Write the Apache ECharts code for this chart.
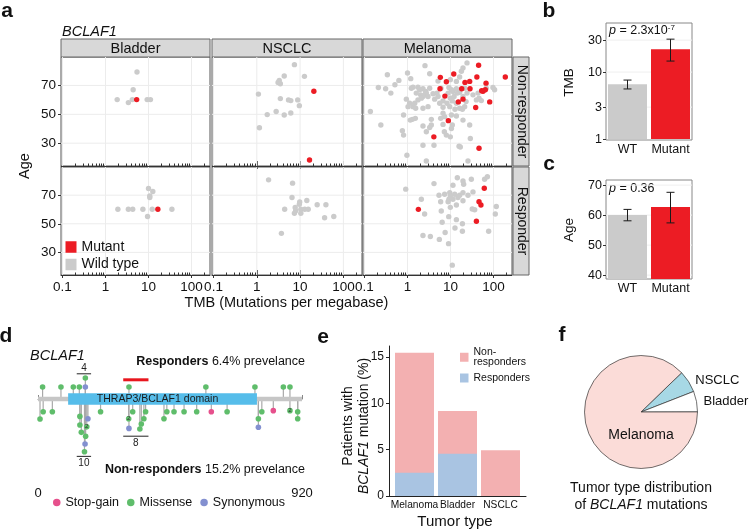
<!DOCTYPE html>
<html><head><meta charset="utf-8">
<script src="https://cdn.jsdelivr.net/npm/echarts@6/dist/echarts.min.js"></script>
<style>html,body{margin:0;padding:0;background:#fff}#c{width:749px;height:531px}</style>
</head><body><div id="c"></div>
<script>
const FONT = 'Liberation Sans, Arial, Helvetica, sans-serif';
const TXT = '#111';

// ---------- Panel a: [TMB, Age] ----------
const facetNames = ['Bladder', 'NSCLC', 'Melanoma'];
const rowNames = ['Non-responder', 'Responder'];
const tmbMajor = [0.1, 1, 10, 100];
const tmbMinor = [0.2,0.3,0.4,0.5,0.6,0.7,0.8,0.9,2,3,4,5,6,7,8,9,20,30,40,50,60,70,80,90,200];
const ageTicks = [30, 50, 70];

const bladderNR_wt = [[5.4,79.3],[4.4,67],[1.87,60.2],[3.4,58.1],[4.2,60.2],[9.3,60.2],[11.1,60.2]];
const bladderNR_mut = [[5.3,60.2]];
const bladderR_wt = [[1.94,60.2],[3.4,60.2],[4.3,60.2],[7.4,60.2],[9.5,55.1],[10,74.7],[12.6,72.6],[10.7,69.5],[10.7,68.4],[12.2,60.2],[35,60.2]];
const bladderR_mut = [[16.5,60.2]];
const nsclcNR_wt = [[7.4,84.4],[4.3,76.5],[3.3,73.5],[3.1,72.1],[3.5,71.2],[12.6,76.3],[1.09,64],[3.5,60.9],[5.4,60],[6.1,59.5],[8.8,60],[9.6,56],[2.8,51.9],[1.74,49.8],[4.3,49.5],[6.1,50.9],[1.15,40.7]];
const nsclcNR_mut = [[20.8,66],[16.5,18.4]];
const nsclcR_wt = [[1.87,80.7],[6.7,78.4],[6.5,68.4],[9.8,65.3],[9.6,63.7],[14.3,66.3],[7.7,61.4],[4.4,60.2],[7.9,59.1],[10.4,60.2],[12.8,60.2],[15.4,60.2],[24.8,63.3],[39.5,63.3],[7.4,57.4],[10.4,57.4],[36.8,54.2],[60,55.1],[3.7,43.3]];
const nsclcR_mut = [];
const melanomaNR_wt = [[2.55,83.7],[24.2,85.6],[19.5,82.1],[17.9,79.8],[0.34,77.4],[1.0,78.6],[1.19,74.7],[3.28,78.1],[16.3,75.8],[13.7,72.8],[9.9,74],[5.12,73],[0.63,73.5],[0.51,70.5],[0.21,68.6],[0.31,67.7],[0.41,64.7],[1.23,68.1],[1.34,68.8],[1.75,68.8],[2.29,67.7],[2.64,65.8],[1.6,64.7],[2.02,63.5],[2.29,62.3],[2.74,64.7],[3.28,68.1],[3.92,64.2],[4.85,64.7],[6.0,68.1],[9.2,68.6],[10.5,67],[11.4,65.8],[13.7,67.7],[14.4,64.7],[12.1,62.3],[9.9,61.2],[11.0,59.3],[16.3,65.3],[21.3,68.1],[24.2,64.7],[33.3,63.5],[43.6,64.7],[46,61.2],[52,59.5],[68,68.1],[97,68.6],[106,67],[0.94,60.5],[1.12,57.7],[1.03,55.3],[1.34,55.3],[1.55,54.2],[1.75,60],[2.1,61.2],[2.29,54.2],[3.0,55.3],[4.28,60.5],[5.12,62.3],[6.7,59.3],[6.7,54.9],[8.3,57.7],[9.6,55.3],[6.7,50.7],[12.7,53.5],[16.3,54.2],[18.9,53.5],[21.3,55.3],[13.7,48.8],[10.5,49.5],[7.3,48.4],[5.9,47.2],[3.58,46.5],[0.81,49.5],[1.3,46.5],[1.16,46],[1.52,47.2],[0.24,42.6],[0.137,51.9],[0.76,38.6],[0.81,35.6],[2.29,41.9],[2.74,37.9],[3.28,40.9],[3.58,42.6],[6.7,43],[7.2,37.9],[8.0,35.6],[9.9,34.4],[10.5,40.2],[11.0,42.6],[19.5,46],[27.9,42.6],[28.9,33.3],[16.9,27.4],[15.8,27.9],[4.13,28.6],[2.29,28.6],[0.97,21.6],[2.74,17.7],[25.5,17.7],[1.92,67],[2.5,63.5],[3.0,62.3],[1.47,57.7],[5.6,57.7],[8.8,64.7],[19.5,62.3],[23,58.8],[40,60],[13.7,57.7]];
const melanomaNR_mut = [[45,84],[11.9,77.9],[41,75.8],[188,75.8],[5.8,75.6],[8,72.6],[21.7,72.1],[27.9,72.8],[67,71.6],[5.7,67.7],[18.2,67.7],[28.4,67.7],[53,66.3],[64.6,67],[57,66],[7.4,62.6],[19.5,60.5],[15.2,58.6],[81.5,58.6],[38.5,54.7],[8.9,45.6],[4.1,34.4],[46,26.5]];
const melanomaR_wt = [[0.91,74.2],[4.13,78.1],[14.4,82.2],[19.5,79.9],[20.2,77.6],[30.5,81.1],[62,81.1],[72,82.9],[11.4,76.9],[5.4,70],[7.3,70.7],[9.6,71.8],[9.9,69.5],[12.5,70.7],[16.3,70],[19.5,71.8],[25.5,70],[33.3,72.3],[9.2,67.2],[11.4,67.2],[14.9,68.4],[19.5,66.1],[5.9,65.4],[8.8,65.4],[9.9,61.5],[2.1,67.2],[2.5,56.8],[6.1,58.9],[13.7,63.1],[32,60.3],[36.5,59.8],[116,62.1],[110,56.8],[9.1,55],[13.7,52.9],[6.4,51.1],[18.9,50],[12.7,47.1],[18.9,44.8],[7.5,43.9],[77,44.8],[2.29,41.8],[3.4,41.1],[5.5,39.1],[9.0,36.1],[11.0,21.1]];
const melanomaR_mut = [[61,74.8],[46,65.4],[51,63.1],[40,51.8],[1.79,60.1]];

// ---------- Panel b / c ----------
const groupCats = ['WT', 'Mutant'];
const tmbMean = [6.6, 22];
const tmbLow = [5.6, 14.6];
const tmbHigh = [7.6, 31];
const tmbBTicks = [1, 3, 10, 30];
const ageMean = [60, 62.7];
const ageLow = [58.1, 57.4];
const ageHigh = [61.9, 67.6];
const ageCTicks = [40, 50, 60, 70];

// ---------- Panel d: [position, height, type, count] ----------
const proteinLength = 920;
const domainStart = 105, domainEnd = 763;
const responderMuts = [[16,1,'Missense',1],[80,1,'Missense',1],[123,1,'Missense',1],[144,1,'Missense',1],[165,1.75,'Missense',1],[165,1,'Synonymous',1],[317,1,'Missense',1],[585,1,'Missense',1],[756,1,'Missense',1],[855,1,'Missense',1],[878,1,'Missense',1]];
const nonResponderMuts = [[7,-1.67,'Missense',1],[18,-1.06,'Missense',1],[50,-1.06,'Missense',1],[146,-1.45,'Missense',1],[146,-2.17,'Missense',1],[151,-2.78,'Missense',1],[166,-3.1,'Missense',1],[164,-3.75,'Synonymous',1],[162,-4.4,'Missense',1],[174,-1.65,'Synonymous',1],[170,-2.32,'Missense',2],[218,-1.06,'Missense',1],[316,-1.65,'Missense',2],[317,-2.45,'Synonymous',1],[330,-1.06,'Missense',1],[360,-2.08,'Missense',1],[355,-2.5,'Missense',1],[369,-1.65,'Missense',1],[375,-1.06,'Missense',1],[439,-1.65,'Missense',1],[449,-1.06,'Missense',1],[474,-1.06,'Missense',1],[509,-1.06,'Missense',1],[553,-1.06,'Missense',1],[604,-1.06,'Stop-gain',1],[659,-1.06,'Missense',1],[768,-1.65,'Missense',1],[768,-2.35,'Synonymous',1],[780,-1.06,'Missense',1],[820,-0.97,'Stop-gain',1],[878,-0.97,'Missense',2],[905,-1.06,'Missense',1],[905,-1.65,'Missense',1]];
const mutTypes = ['Stop-gain', 'Missense', 'Synonymous'];
const mutColors = {'Stop-gain':'#e6508c', 'Missense':'#5fbd6b', 'Synonymous':'#8390d0'};
// [start, end, height, label]
const brackets = [[135,185,2.1,'4'],[297,385,-3.1,'8'],[135,185,-4.78,'10']];
const hotspot = [[297,385,1.6]];

// ---------- Panel e ----------
const tumorTypes = ['Melanoma', 'Bladder', 'NSCLC'];
const respPct = [2.5, 4.56, 0];
const nonRespPct = [12.96, 4.61, 4.93];

// ---------- Panel f ----------
const pieNames = ['NSCLC', 'Bladder', 'Melanoma'];
const pieValues = [6.3, 5.9, 87.8];
const pieColors = ['#a7d8e5', '#ffffff', '#fbdcd8'];

// ================= build option =================
const tmbMin = 0.0923, tmbMax = 269, ageMin = 14.2, ageMax = 89.7;
const colsX = [[61,149],[212,150],[363,149]];
const rowsY = [[57,109],[167,108]];
const facetData = [
  [bladderNR_wt, bladderNR_mut], [nsclcNR_wt, nsclcNR_mut], [melanomaNR_wt, melanomaNR_mut],
  [bladderR_wt, bladderR_mut], [nsclcR_wt, nsclcR_mut], [melanomaR_wt, melanomaR_mut]
];
const grids = [], xAxes = [], yAxes = [], series = [];
const fmtNum = v => (v < 1 ? (+v).toFixed(1) : String(Math.round(v)));

function gridLines(xi, yi, xs, ys, xRef, yRef, color) {
  const data = xs.map(v => [v, 0]).concat(ys.map(v => [v, 1]));
  return {type:'custom', xAxisIndex:xi, yAxisIndex:yi, silent:true, z:1, data,
    renderItem(params, api) {
      const cs = params.coordSys;
      const v = api.value(0), k = api.value(1);
      if (k === 0) {
        const x = api.coord([v, yRef])[0];
        return {type:'line', shape:{x1:x, y1:cs.y, x2:x, y2:cs.y+cs.height}, style:{stroke:color, lineWidth:1}};
      }
      const y = api.coord([xRef, v])[1];
      return {type:'line', shape:{x1:cs.x, y1:y, x2:cs.x+cs.width, y2:y}, style:{stroke:color, lineWidth:1}};
    }};
}

for (let r = 0; r < 2; r++) for (let c = 0; c < 3; c++) {
  const g = r * 3 + c;
  grids.push({left: colsX[c][0], width: colsX[c][1], top: rowsY[r][0], height: rowsY[r][1],
    show: true, borderColor: '#555', borderWidth: 1, backgroundColor: '#fff'});
  const base = {type:'log', logBase:10, gridIndex:g, min:tmbMin, max:tmbMax, position:'bottom',
    splitLine:{show:false}, axisLine:{show:false}, axisLabel:{show:false}, axisTick:{show:false}};
  xAxes.push(Object.assign({}, base, {
    axisLine:{show:true, lineStyle:{color:'#333', width:1}},
    axisTick:{show:true, inside:false, length:3, customValues: tmbMajor, lineStyle:{color:'#333'}},
    axisLabel:{show: r === 1, customValues: tmbMajor, formatter: fmtNum, fontSize:13.5, margin:5, fontFamily: FONT, color: TXT}
  }));
  xAxes.push(Object.assign({}, base, {axisTick:{show:true, inside:true, length:2.5, customValues: tmbMinor, lineStyle:{color:'#333'}}}));
  xAxes.push(Object.assign({}, base, {axisTick:{show:true, inside:true, length:5, customValues: tmbMajor, lineStyle:{color:'#333'}}}));
  yAxes.push({type:'value', gridIndex:g, min:ageMin, max:ageMax, splitLine:{show:false},
    axisLine:{show:false},
    axisTick:{show: c === 0, length:3, customValues: ageTicks, lineStyle:{color:'#333'}},
    axisLabel:{show: c === 0, customValues: ageTicks, fontSize:13.5, margin:5, fontFamily: FONT, color: TXT}});
  series.push(gridLines(g*3, g, tmbMajor, ageTicks, 1, 50, '#ececec'));
  series.push({type:'scatter', name:'Wild type', xAxisIndex:g*3, yAxisIndex:g, data: facetData[g][0],
    symbolSize:5.4, itemStyle:{color:'#cbcbcb', opacity:1}, z:3, silent:true});
  series.push({type:'scatter', name:'Mutant', xAxisIndex:g*3, yAxisIndex:g, data: facetData[g][1],
    symbolSize:5.4, itemStyle:{color:'#ec1c24', opacity:1}, z:4, silent:true});
}

// Panel b (grid 6)
grids.push({left:606, top:23, width:86, height:117, show:true, borderColor:'#888', borderWidth:1});
xAxes.push({type:'category', gridIndex:6, data: groupCats, axisLine:{show:false}, axisTick:{show:false},
  axisLabel:{interval:0, fontSize:12.5, margin:3, fontFamily:FONT, color:TXT}});
yAxes.push({type:'log', logBase:10, gridIndex:6, min:0.97, max:54, splitLine:{show:false}, axisLine:{show:false},
  axisTick:{show:true, length:3, customValues: tmbBTicks, lineStyle:{color:'#333'}},
  axisLabel:{customValues: tmbBTicks, formatter: fmtNum, fontSize:12.5, margin:4, fontFamily:FONT, color:TXT}});
// Panel c (grid 7)
grids.push({left:606, top:180, width:86, height:99, show:true, borderColor:'#888', borderWidth:1});
xAxes.push({type:'category', gridIndex:7, data: groupCats, axisLine:{show:false}, axisTick:{show:false},
  axisLabel:{interval:0, fontSize:12.5, margin:3, fontFamily:FONT, color:TXT}});
yAxes.push({type:'value', gridIndex:7, min:38.7, max:71.7, splitLine:{show:false}, axisLine:{show:false},
  axisTick:{show:true, length:3, customValues: ageCTicks, lineStyle:{color:'#333'}},
  axisLabel:{customValues: ageCTicks, fontSize:12.5, margin:4, fontFamily:FONT, color:TXT}});

function barWithErr(xi, yi, means, lows, highs, gridTicks) {
  series.push(gridLines(xi, yi, [], gridTicks, 0, 1, '#efefef'));
  series.push({type:'bar', xAxisIndex:xi, yAxisIndex:yi, barWidth:39, silent:true, z:2,
    data: means.map((v, i) => ({value: v, itemStyle: {color: i === 0 ? '#cbcbcb' : '#ec1c24'}}))});
  series.push({type:'custom', xAxisIndex:xi, yAxisIndex:yi, silent:true, z:5,
    data: means.map((v, i) => [i, lows[i], highs[i]]),
    renderItem(params, api) {
      const lo = api.coord([api.value(0), api.value(1)]);
      const hi = api.coord([api.value(0), api.value(2)]);
      const w = 4, st = {stroke:'#1a1a1a', lineWidth:1};
      return {type:'group', children:[
        {type:'line', shape:{x1:lo[0], y1:lo[1], x2:hi[0], y2:hi[1]}, style:st},
        {type:'line', shape:{x1:lo[0]-w, y1:lo[1], x2:lo[0]+w, y2:lo[1]}, style:st},
        {type:'line', shape:{x1:hi[0]-w, y1:hi[1], x2:hi[0]+w, y2:hi[1]}, style:st}
      ]};
    }});
}
barWithErr(18, 6, tmbMean, tmbLow, tmbHigh, [3, 10, 30]);
barWithErr(19, 7, ageMean, ageLow, ageHigh, [40, 50, 60, 70]);

// Panel d (grid 8)
grids.push({left:38, width:264, top:363, height:120, show:false});
xAxes.push({type:'value', gridIndex:8, min:0, max:proteinLength, splitLine:{show:false},
  axisLine:{show:true, lineStyle:{color:'#888', width:1}},
  axisTick:{show:true, inside:true, length:4, customValues:[0, proteinLength], lineStyle:{color:'#888'}},
  axisLabel:{customValues:[0, proteinLength], fontSize:13, margin:4, fontFamily:FONT, color:TXT}});
yAxes.push({type:'value', gridIndex:8, min:-7, max:3, show:false});
const allMuts = responderMuts.concat(nonResponderMuts);
series.push({type:'custom', xAxisIndex:20, yAxisIndex:8, silent:true, z:2,
  data: allMuts.map(m => [m[0], m[1]]),
  renderItem(params, api) {
    const a = api.coord([api.value(0), 0]), b = api.coord([api.value(0), api.value(1)]);
    return {type:'line', shape:{x1:a[0], y1:a[1], x2:b[0], y2:b[1]}, style:{stroke:'#a9a9a9', lineWidth:1.2}};
  }});
series.push({type:'custom', xAxisIndex:20, yAxisIndex:8, silent:true, z:3,
  data: [[0, proteinLength, domainStart, domainEnd]],
  renderItem(params, api) {
    const p0 = api.coord([api.value(0), 0]), p1 = api.coord([api.value(1), 0]);
    const d0 = api.coord([api.value(2), 0]), d1 = api.coord([api.value(3), 0]);
    return {type:'group', children:[
      {type:'rect', shape:{x:p0[0], y:p0[1]-2.3, width:p1[0]-p0[0], height:4.6}, style:{fill:'#c6c6c6'}},
      {type:'rect', shape:{x:d0[0], y:d0[1]-5.8, width:d1[0]-d0[0], height:11.6}, style:{fill:'#56bdea'}},
      {type:'text', x:(d0[0]+d1[0])/2 - 5, y:d0[1], style:{text:'THRAP3/BCLAF1 domain', fontSize:10.5, fontFamily:FONT, fill:'#1a1a1a', align:'center', verticalAlign:'middle'}}
    ]};
  }});
series.push({type:'custom', xAxisIndex:20, yAxisIndex:8, silent:true, z:3,
  data: hotspot,
  renderItem(params, api) {
    const a = api.coord([api.value(0), api.value(2)]), b = api.coord([api.value(1), api.value(2)]);
    return {type:'line', shape:{x1:a[0], y1:a[1], x2:b[0], y2:b[1]}, style:{stroke:'#e8161e', lineWidth:3}};
  }});
series.push({type:'custom', xAxisIndex:20, yAxisIndex:8, silent:true, z:3,
  data: brackets.map(b => [b[0], b[1], b[2]]),
  renderItem(params, api) {
    const a = api.coord([api.value(0), api.value(2)]), b = api.coord([api.value(1), api.value(2)]);
    const up = api.value(2) > 0;
    const t = brackets[params.dataIndex][3];
    return {type:'group', children:[
      {type:'line', shape:{x1:a[0], y1:a[1], x2:b[0], y2:b[1]}, style:{stroke:'#222', lineWidth:1}},
      {type:'text', x:(a[0]+b[0])/2, y: up ? a[1]-1 : a[1]+2, style:{text:t, fontSize:10, fontFamily:FONT, fill:'#222', align:'center', verticalAlign: up ? 'bottom' : 'top'}}
    ]};
  }});
mutTypes.forEach(t => {
  series.push({type:'scatter', name:t, xAxisIndex:20, yAxisIndex:8, symbolSize:5.6, silent:true, z:4,
    itemStyle:{color: mutColors[t], opacity:1},
    data: allMuts.filter(m => m[2] === t).map(m => ({value:[m[0], m[1]],
      label: m[3] > 1 ? {show:true, formatter:String(m[3]), position:'inside', fontSize:6, color:'#333', fontFamily:FONT} : {show:false}}))});
});

// Panel e (grid 9): totals drawn first, responders overlaid at the bottom
grids.push({left:389, top:346, width:137, height:150, show:false});
xAxes.push({type:'value', gridIndex:9, min:0.407, max:3.593, splitLine:{show:false},
  axisLine:{show:true, lineStyle:{color:'#222'}}, axisTick:{show:false},
  axisLabel:{customValues:[1,2,3], formatter: v => tumorTypes[Math.round(v)-1], fontSize:10.2, margin:4, fontFamily:FONT, color:TXT}});
yAxes.push({type:'value', gridIndex:9, min:0, max:16.2, splitLine:{show:false},
  axisLine:{show:true, lineStyle:{color:'#222'}},
  axisTick:{show:true, length:3, customValues:[0,5,10,15], lineStyle:{color:'#222'}},
  axisLabel:{customValues:[0,5,10,15], fontSize:12, margin:5, fontFamily:FONT, color:TXT}});
series.push({type:'bar', name:'Non-responders', xAxisIndex:21, yAxisIndex:9, barWidth:39, barGap:'-100%', silent:true, z:2,
  itemStyle:{color:'#f3b0b1'}, data: nonRespPct.map((v, i) => [i+1, v + respPct[i]])});
series.push({type:'bar', name:'Responders', xAxisIndex:21, yAxisIndex:9, barWidth:39, barGap:'-100%', silent:true, z:3,
  itemStyle:{color:'#a9c4e2'}, data: respPct.map((v, i) => [i+1, v])});

// Panel f pie
series.push({type:'pie', center:[641, 412], radius:56.5, startAngle:44, clockwise:true, silent:true,
  avoidLabelOverlap:false, animation:false,
  itemStyle:{borderColor:'#333', borderWidth:0.7},
  label:{position:'outside', fontSize:13, fontFamily:FONT, color:TXT},
  labelLine:{show:false, length:2, length2:0},
  data: pieNames.map((n, i) => ({name:n, value:pieValues[i], itemStyle:{color:pieColors[i]},
    label: n === 'Melanoma' ? {position:'center', fontSize:14, lineHeight:46, formatter:'\n{b}'} : {}}))});

// graphics
const G = [];
const text = (x, y, t, o) => G.push(Object.assign({type:'text', x, y, silent:true,
  style:Object.assign({text:t, fontSize:13, fontFamily:FONT, fill:TXT, align:'center', verticalAlign:'middle'}, (o && o.style) || {})},
  o && o.rotation !== undefined ? {rotation:o.rotation} : {}));
const bold = {fontWeight:'bold', fontSize:21};
text(7, 11, 'a', {style:bold}); text(549, 11, 'b', {style:bold}); text(549, 164, 'c', {style:bold});
text(6, 336, 'd', {style:bold}); text(323, 337, 'e', {style:bold}); text(562, 335, 'f', {style:bold});
text(62, 32, 'BCLAF1', {style:{fontStyle:'italic', fontSize:14.5, align:'left'}});
colsX.forEach((cx, i) => {
  G.push({type:'rect', shape:{x:cx[0], y:39, width:cx[1], height:18}, style:{fill:'#d8d8d8', stroke:'#666', lineWidth:1}, silent:true});
  text(cx[0] + cx[1]/2, 48.5, facetNames[i], {style:{fontSize:14.5}});
});
rowsY.forEach((ry, i) => {
  G.push({type:'rect', shape:{x:513, y:ry[0], width:16, height:ry[1]}, style:{fill:'#d8d8d8', stroke:'#666', lineWidth:1}, silent:true});
  text(521.5, ry[0] + ry[1]/2, rowNames[i], {style:{fontSize:14}, rotation:-Math.PI/2});
});
text(25, 166, 'Age', {style:{fontSize:14.5}, rotation:Math.PI/2});
text(286.5, 303, 'TMB (Mutations per megabase)', {style:{fontSize:14.5}});
text(569, 82.5, 'TMB', {style:{fontSize:13.5}, rotation:Math.PI/2});
text(569, 230, 'Age', {style:{fontSize:13.5}, rotation:Math.PI/2});
text(609, 31, '{i|p} = 2.3x10{s|-7}', {style:{fontSize:12.5, align:'left',
  rich:{i:{fontStyle:'italic', fontSize:12.5, fontFamily:FONT}, s:{fontSize:8, fontFamily:FONT, verticalAlign:'top', padding:[0,0,6,0]}}}});
text(609, 189, '{i|p} = 0.36', {style:{fontSize:12.5, align:'left', rich:{i:{fontStyle:'italic', fontSize:12.5, fontFamily:FONT}}}});
text(30, 356, 'BCLAF1', {style:{fontStyle:'italic', fontSize:14.5, align:'left'}});
text(305, 362, '{b|Responders} 6.4% prevelance', {style:{fontSize:12.5, align:'right', rich:{b:{fontWeight:'bold', fontSize:12.5, fontFamily:FONT}}}});
text(305, 470, '{b|Non-responders} 15.2% prevelance', {style:{fontSize:12.5, align:'right', rich:{b:{fontWeight:'bold', fontSize:12.5, fontFamily:FONT}}}});
text(356, 426, 'Patients with\n{i|BCLAF1} mutation (%)', {style:{fontSize:14, lineHeight:16.5, rich:{i:{fontStyle:'italic', fontSize:14, fontFamily:FONT}}}, rotation:Math.PI/2});
text(455, 522, 'Tumor type', {style:{fontSize:15}});
text(641, 488, 'Tumor type distribution', {style:{fontSize:14}});
text(641, 505, 'of {i|BCLAF1} mutations', {style:{fontSize:14, rich:{i:{fontStyle:'italic', fontSize:14, fontFamily:FONT}}}});

const option = {
  animation:false,
  backgroundColor:'#fff',
  textStyle:{fontFamily:FONT, color:TXT},
  grid: grids, xAxis: xAxes, yAxis: yAxes, series,
  legend: [
    {left:65.5, top:240, orient:'vertical', padding:0, itemWidth:11, itemHeight:11.5, itemGap:3.5, icon:'rect',
      data:['Mutant','Wild type'], textStyle:{fontSize:14, fontFamily:FONT, color:TXT}, selectedMode:false},
    {left:53, top:496, orient:'horizontal', padding:0, itemWidth:7.5, itemHeight:7.5, itemGap:8, icon:'circle',
      data: mutTypes, textStyle:{fontSize:12.5, fontFamily:FONT, color:TXT}, selectedMode:false},
    {left:460, top:347, orient:'vertical', padding:0, itemWidth:8.5, itemHeight:9, itemGap:5, icon:'rect',
      data:['Non-responders','Responders'], formatter: n => n === 'Non-responders' ? 'Non-\nresponders' : n,
      textStyle:{fontSize:10.5, lineHeight:9.5, fontFamily:FONT, color:TXT}, selectedMode:false}
  ],
  graphic: G
};
const chart = echarts.init(document.getElementById('c'));
chart.setOption(option);
</script>
</body></html>
